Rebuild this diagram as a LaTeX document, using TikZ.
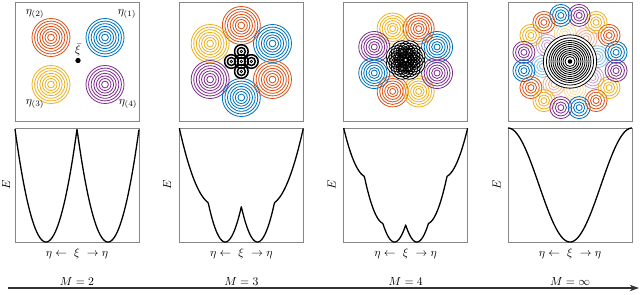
\documentclass[tikz,border=0pt]{standalone}
\usepackage{tikz}
\usepackage{amsmath}
\usepackage{xcolor}
\usetikzlibrary{arrows.meta,positioning,calc}
\definecolor{ClusterBlue}{RGB}{0,114,189}
\definecolor{ClusterOrange}{RGB}{217,83,25}
\definecolor{ClusterYellow}{RGB}{237,177,32}
\definecolor{ClusterPurple}{RGB}{126,47,142}
\definecolor{FrameGray}{RGB}{135,135,135}
\colorlet{C0}{ClusterBlue}
\colorlet{C1}{ClusterOrange}
\colorlet{C2}{ClusterYellow}
\colorlet{C3}{ClusterPurple}
\tikzset{
  panel/.style={draw=FrameGray,line width=0.8pt,minimum width=3.72cm,
                minimum height=3.57cm,inner sep=0pt},
  plotbox/.style={draw=FrameGray,line width=0.8pt,minimum width=3.72cm,
                  minimum height=3.42cm,inner sep=0pt},
  ring/.style={line width=0.7pt},
  ecurve/.style={black,line width=1.1pt,line join=round},
  elbl/.style={rotate=90,inner sep=1pt},
  arr/.style={-{Stealth[length=8pt,width=5.5pt]},black!80,line width=0.9pt},
  xidot/.style={circle,fill=black,inner sep=0pt,minimum size=0.16cm},
}
% concentric rings: x, y, outer r, inner r, count, colour
\newcommand{\clusterrings}[6]{%
  \foreach \rr in {1,...,#5}{
    \draw[ring,#6] ({#1},{#2}) circle[radius={#3-(\rr-1)*(#3-#4)/(#5-1)}];
  }%
}
\begin{document}
\begin{tikzpicture}[x=0.03cm,y=-0.03cm,
  declare function={
    sq(\a)=\a*\a;
    etwo(\u)=3.96*min(sq(\u-0.5),sq(\u+0.5));
    ethree(\u)=min(4.59*min(sq(\u-0.26),sq(\u+0.26)),
                   0.33+2.21*sq(max(abs(\u)-0.45,0)));
    efour(\u)=min(4.63*min(sq(\u-0.18),sq(\u+0.18)),
                  0.16+3.9*sq(max(abs(\u)-0.34,0)),
                  0.57+2.98*sq(max(abs(\u)-0.62,0)));
    einf(\u)=0.5-0.5*cos(180*\u);
  }]
  \useasboundingbox (0,0) rectangle (640,294);

  % frames and axis labels
  \foreach \i/\cx/\es in {1/77/0.25,2/241.33/0.35,3/405.67/0.35,4/570/0.33}{
    \node[panel] (pan\i) at (\cx,61.5) {};
    \node[plotbox] (plt\i) at (\cx,185) {};
    \node[elbl] (en\i) at ([xshift=-\es cm]plt\i.west) {$E$};
    \node[below=1.5pt of plt\i] (xl\i) {$\eta \leftarrow\ \xi\ \rightarrow \eta$};
  }
  \foreach \i/\m in {1/2,2/3,3/4,4/\infty}
    \node (ml\i) at ($(xl\i)+(0,28)$) {$M=\m$};

  % M = 2
  \foreach \dx/\dy/\col in {27/-23.5/C0,-27/-23.5/C1,-27/23.5/C2,27/23.5/C3}{
    \clusterrings{78+\dx}{61+\dy}{19}{3.4}{7}{\col}
  }
  \node[xidot] (xi) at (78,60.5) {};
  \node[above=0pt of xi,inner sep=1.5pt] (xilbl) {$\bar{\xi}$};
  \node (eta1) at (127,14) {$\eta_{(1)}$};
  \node (eta2) at (35,14) {$\eta_{(2)}$};
  \node (eta3) at (35,104) {$\eta_{(3)}$};
  \node (eta4) at (128,104) {$\eta_{(4)}$};

  % M = 3
  \foreach \k in {0,...,5}{
    \pgfmathtruncatemacro{\c}{mod(\k,4)}
    \clusterrings{241.33+36*cos(30+60*\k)}{61.5-36*sin(30+60*\k)}{19}{3.4}{7}{C\c}
  }
  \foreach \dx/\dy in {0/0,10/0,-10/0,0/10,0/-10}
    \fill[white] ({241.33+\dx},{61.5+\dy}) circle[radius=7.6];
  \foreach \dx/\dy in {0/0,10/0,-10/0,0/10,0/-10}{
    \draw[line width=1.3pt] ({241.33+\dx},{61.5+\dy}) circle[radius=6.8]
      circle[radius=4];
    \draw[line width=0.6pt] ({241.33+\dx},{61.5+\dy}) circle[radius=1.3];
  }

  % M = 4
  \foreach \k in {0,...,7}{
    \pgfmathtruncatemacro{\c}{mod(\k,4)}
    \clusterrings{405.67+34*cos(22.5+45*\k)}{60-34*sin(22.5+45*\k)}{15.5}{3}{6}{C\c}
  }
  \fill[white] (405.67,60) circle[radius=11];
  \foreach \k in {0,...,7}
    \fill[white] ({405.67+9*cos(22.5+45*\k)},{60-9*sin(22.5+45*\k)}) circle[radius=11];
  \clusterrings{405.67}{60}{11}{3.5}{4}{black}
  \foreach \k in {0,...,7}{
    \clusterrings{405.67+9*cos(22.5+45*\k)}{60-9*sin(22.5+45*\k)}{11}{3.5}{4}{black}
  }
  \fill[white] (405.67,60) circle[radius=1.2];

  % M = infinity
  \foreach \k in {0,...,7}{
    \pgfmathtruncatemacro{\c}{mod(\k,4)}
    \clusterrings{570+28*cos(10+45*\k)}{61.5-28*sin(10+45*\k)}{11}{3}{4}{C\c,opacity=0.45}
  }
  \foreach \k in {0,...,15}{
    \pgfmathtruncatemacro{\c}{mod(\k,4)}
    \clusterrings{570+47*cos(11.25+22.5*\k)}{61.5-47*sin(11.25+22.5*\k)}{11}{3}{4}{C\c}
  }
  \fill[white] (570,61.5) circle[radius=27.2];
  \draw[ring] (570,61.5) circle[radius=26.7] circle[radius=23.6];
  \clusterrings{570}{61.5}{21}{5}{9}{black}
  \fill (570,61.5) circle[radius=2.3];

  % energy curves
  \draw[ecurve] plot[variable=\u,domain=-1:1,samples=201]
    ({77+62*\u},{242-114*etwo(\u)});
  \draw[ecurve] plot[variable=\u,domain=-1:1,samples=201]
    ({241.33+62*\u},{242-114*ethree(\u)});
  \draw[ecurve] plot[variable=\u,domain=-1:1,samples=201]
    ({405.67+62*\u},{242-114*efour(\u)});
  \draw[ecurve] plot[variable=\u,domain=-1:1,samples=201]
    ({570+62*\u},{242-114*einf(\u)});

  % M axis
  \coordinate (axL) at (8,288);
  \coordinate (axR) at (639,288);
  \draw[arr] (axL) -- (axR);
\end{tikzpicture}
\end{document}
